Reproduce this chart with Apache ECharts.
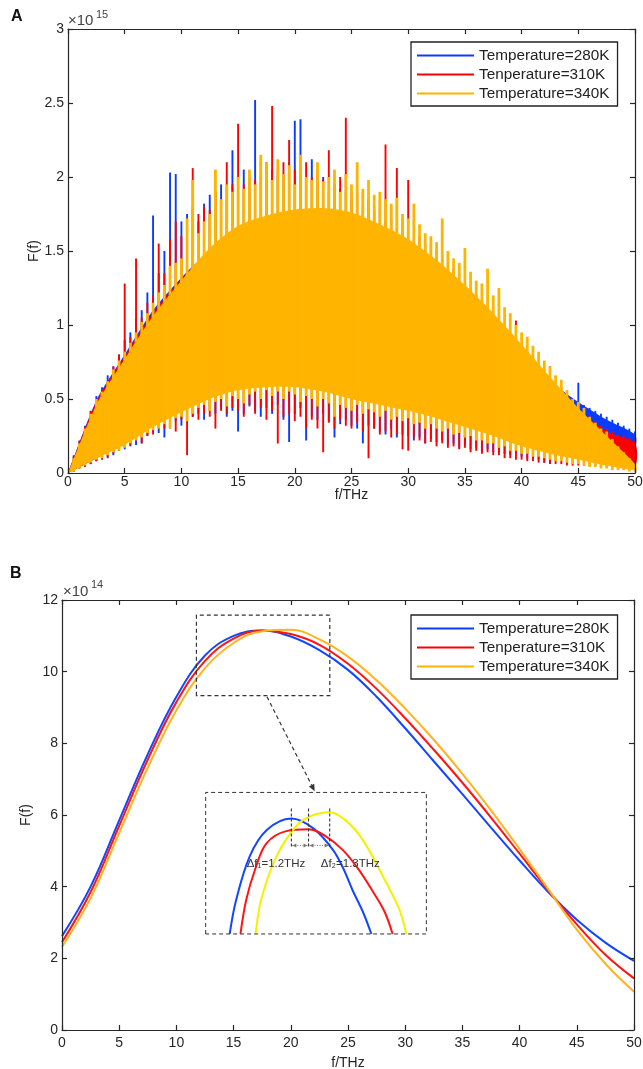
<!DOCTYPE html>
<html><head><meta charset="utf-8">
<script src="https://cdn.jsdelivr.net/npm/echarts@6/dist/echarts.min.js"></script>
<style>html,body{margin:0;padding:0;background:#fff}#c{width:643px;height:1069px}</style>
</head><body><div id="c"></div>
<script>
// ---------- names / colours ----------
const seriesNames = ['Temperature=280K', 'Tenperature=310K', 'Temperature=340K'];
const colA = ['#0a3cff', '#ff0000', '#ffb400'];
const colB = ['#1246ff', '#ff1414', '#ffb41e'];
const xTickLabels = ['0','5','10','15','20','25','30','35','40','45','50'];

// ---------- Panel A (values in units of 1e15) ----------
const fCoarse = [0,2.5,5,7.5,10,12.5,15,17.5,20,22.5,25,27.5,30,32.5,35,37.5,40,42.5,45,47.5,50];

const blueCoreHi  = [0,0.49,0.8,1.1,1.32,1.5,1.62,1.68,1.72,1.73,1.7,1.62,1.52,1.38,1.2,1.02,0.8,0.62,0.48,0.36,0.26];
const blueCoreLo  = [0,0.1,0.2,0.33,0.43,0.52,0.58,0.6,0.6,0.57,0.52,0.48,0.44,0.39,0.33,0.27,0.2,0.15,0.14,0.16,0.18];
const redCoreHi   = [0,0.48,0.79,1.08,1.31,1.5,1.64,1.7,1.74,1.75,1.72,1.64,1.54,1.4,1.23,1.04,0.84,0.62,0.43,0.28,0.2];
const redCoreLo   = [0,0.1,0.2,0.33,0.43,0.52,0.58,0.6,0.6,0.57,0.52,0.48,0.44,0.39,0.33,0.27,0.2,0.15,0.1,0.06,0.05];
const orangeCoreHi= [0,0.46,0.77,1.06,1.3,1.52,1.67,1.74,1.78,1.79,1.76,1.68,1.58,1.44,1.27,1.08,0.87,0.65,0.44,0.25,0.06];
const orangeCoreLo= [0,0.1,0.19,0.31,0.41,0.5,0.56,0.58,0.58,0.55,0.5,0.46,0.42,0.37,0.31,0.25,0.18,0.13,0.09,0.05,0.02];

// spike extremes every 0.5 THz (f = 0 ... 50)
const blueHi = [0,0.12,0.22,0.32,0.42,0.52,0.58,0.66,0.72,0.8,0.9,0.95,1.04,1.1,1.22,1.74,1.35,1.5,2.03,2.02,1.7,1.75,1.8,1.7,1.82,1.88,1.9,1.95,1.85,2.18,1.9,2.05,1.9,2.52,2.0,2.1,2.05,2.0,2.02,2.1,2.38,2.39,2.0,2.12,1.95,2.0,1.9,1.95,1.92,1.9,1.85,1.88,1.8,1.85,1.78,1.8,1.7,1.72,1.65,1.6,1.55,1.5,1.45,1.42,1.4,1.35,1.3,1.3,1.25,1.2,1.15,1.12,1.08,1.02,1.0,0.95,0.9,0.86,0.82,0.78,0.8,0.72,0.7,0.68,0.65,0.62,0.6,0.55,0.53,0.5,0.61,0.46,0.44,0.42,0.4,0.38,0.36,0.34,0.32,0.3,0.28];
const blueLo = [0,0.01,0.03,0.05,0.06,0.08,0.1,0.1,0.12,0.15,0.16,0.18,0.19,0.2,0.25,0.28,0.27,0.24,0.3,0.35,0.32,0.36,0.38,0.4,0.36,0.42,0.4,0.44,0.38,0.42,0.28,0.4,0.45,0.42,0.38,0.44,0.4,0.46,0.36,0.21,0.4,0.44,0.22,0.38,0.36,0.4,0.35,0.24,0.33,0.36,0.32,0.3,0.2,0.32,0.3,0.28,0.26,0.3,0.24,0.26,0.25,0.22,0.24,0.2,0.23,0.21,0.22,0.19,0.2,0.17,0.19,0.16,0.17,0.15,0.16,0.14,0.14,0.13,0.12,0.13,0.11,0.1,0.1,0.09,0.07,0.06,0.09,0.1,0.11,0.12,0.13,0.14,0.14,0.15,0.16,0.16,0.17,0.17,0.18,0.18,0.19];
const redHi = [0,0.11,0.21,0.31,0.42,0.5,0.56,0.62,0.72,0.8,1.28,0.92,1.45,1.05,1.15,1.2,1.55,1.35,1.58,1.7,1.6,1.72,2.06,1.75,1.8,1.78,1.9,1.85,2.1,1.95,2.36,1.95,2.0,1.98,2.1,2.0,2.48,2.05,2.1,2.25,2.05,2.0,2.1,2.0,2.05,1.98,2.18,1.95,2.0,2.4,1.9,1.92,1.9,1.85,1.8,1.85,2.22,1.8,2.06,1.72,1.98,1.62,1.6,1.55,1.55,1.5,1.48,1.42,1.38,1.35,1.3,1.25,1.2,1.12,1.1,1.05,1.0,0.98,0.92,1.03,0.85,0.8,0.76,0.72,0.7,0.72,0.62,0.58,0.55,0.5,0.46,0.42,0.38,0.35,0.32,0.3,0.28,0.26,0.25,0.24,0.22];
const redLo = [0,0.01,0.03,0.04,0.06,0.08,0.09,0.11,0.13,0.15,0.17,0.19,0.22,0.2,0.25,0.26,0.3,0.3,0.34,0.28,0.36,0.12,0.38,0.36,0.4,0.38,0.3,0.42,0.4,0.44,0.42,0.38,0.46,0.4,0.44,0.36,0.42,0.2,0.38,0.4,0.35,0.38,0.3,0.36,0.3,0.14,0.34,0.3,0.36,0.32,0.3,0.34,0.28,0.1,0.3,0.26,0.28,0.24,0.26,0.16,0.15,0.24,0.22,0.2,0.21,0.18,0.2,0.17,0.18,0.16,0.17,0.14,0.15,0.13,0.14,0.12,0.12,0.1,0.1,0.09,0.09,0.08,0.08,0.07,0.07,0.06,0.06,0.06,0.05,0.05,0.05,0.05,0.05,0.05,0.05,0.05,0.05,0.05,0.05,0.05,0.04];
const orangeHi = [0,0.1,0.2,0.3,0.4,0.5,0.55,0.62,0.7,0.76,0.82,0.88,0.95,1.02,1.08,1.15,1.22,1.27,1.4,1.42,1.45,1.72,1.98,1.62,1.7,1.75,2.05,1.85,1.95,1.9,2.0,1.92,2.05,1.95,2.15,2.1,1.98,2.12,2.02,2.08,1.95,2.15,2.0,1.98,2.1,1.97,2.0,2.05,1.9,2.02,1.95,2.1,1.92,1.98,1.88,1.9,1.85,1.82,1.86,1.75,1.72,1.82,1.68,1.62,1.6,1.56,1.72,1.5,1.45,1.42,1.52,1.36,1.3,1.28,1.38,1.2,1.25,1.12,1.08,1.0,0.95,0.92,0.86,0.82,0.76,0.72,0.66,0.63,0.56,0.5,0.48,0.44,0.38,0.34,0.3,0.28,0.23,0.18,0.14,0.1,0.06];
const orangeLo = [0,0.01,0.03,0.05,0.07,0.09,0.1,0.12,0.14,0.15,0.17,0.2,0.22,0.24,0.27,0.29,0.3,0.33,0.3,0.37,0.38,0.35,0.4,0.44,0.46,0.42,0.48,0.5,0.45,0.52,0.5,0.47,0.53,0.55,0.5,0.56,0.52,0.55,0.5,0.55,0.53,0.48,0.52,0.5,0.45,0.5,0.47,0.38,0.46,0.44,0.42,0.46,0.4,0.43,0.41,0.38,0.42,0.36,0.38,0.35,0.37,0.33,0.34,0.3,0.33,0.3,0.28,0.3,0.26,0.27,0.24,0.25,0.22,0.22,0.2,0.2,0.17,0.18,0.15,0.15,0.13,0.13,0.11,0.11,0.1,0.09,0.08,0.08,0.07,0.06,0.06,0.05,0.04,0.04,0.03,0.03,0.02,0.02,0.02,0.01,0.01];

// ---------- Panel B (values in units of 1e14) ----------
const blueB   = [2.62,4.0,5.85,7.7,9.3,10.45,11.0,11.15,10.98,10.6,10.05,9.3,8.42,7.5,6.58,5.65,4.73,3.85,3.08,2.44,1.93];
const redB    = [2.45,3.85,5.7,7.55,9.15,10.3,10.92,11.15,11.05,10.75,10.22,9.52,8.7,7.82,6.9,5.93,4.92,3.9,2.95,2.1,1.44];
const orangeB = [2.32,3.68,5.5,7.32,8.92,10.1,10.8,11.13,11.17,10.9,10.42,9.76,8.97,8.1,7.15,6.13,5.05,3.93,2.8,1.85,1.07];

// inset (magnified peak) curves: [f, value]
const insetBlue   = [[14.66,2.68],[15.2,3.6],[16.4,4.84],[17.9,5.58],[20.05,5.9],[22.0,5.62],[23.7,5.02],[24.6,4.5],[25.4,3.9],[26.3,3.3],[27.04,2.68]];
const insetRed    = [[15.6,2.68],[16.1,3.63],[16.9,4.5],[17.87,5.21],[19.6,5.55],[21.55,5.6],[23.0,5.42],[24.56,5.02],[26.0,4.45],[27.2,3.85],[28.2,3.3],[28.9,2.68]];
const insetYellow = [[16.93,2.68],[17.4,3.63],[18.74,4.84],[20.5,5.7],[21.8,5.98],[23.4,6.08],[24.8,5.85],[26.3,5.3],[28.36,4.1],[29.5,3.35],[30.1,2.68]];

// annotations (data coords of panel B)
const zoomBox  = [11.75, 9.33, 23.41, 11.58];
const insetBox = [12.56, 2.68, 31.85, 6.63];
const arrowPts = [17.92, 9.3, 22.09, 6.66];
const peakFs   = [20.05, 21.55, 23.4];
const peakLineY = [5.12, 6.19];
const deltaY   = 5.15;
const deltaLabels = [{f: 18.7, v: 4.63, text: 'Δf₁=1.2THz'}, {f: 25.2, v: 4.63, text: 'Δf₂=1.3THz'}];

// ---------- chart ----------
const FONT = "'Liberation Sans', Arial, Helvetica, sans-serif";
const AX = '#262626';
const fFine = blueHi.map((_, i) => i * 0.5);

function coreSeries(name, color, lo, hi) {
  return {
    type: 'custom', name, xAxisIndex: 0, yAxisIndex: 0, silent: true, animation: false,
    itemStyle: { color },
    data: fCoarse.map((f, i) => [f, lo[i], hi[i]]),
    encode: { x: 0, y: [1, 2] },
    renderItem(params, api) {
      if (params.dataIndex !== 0) return null;
      const up = fCoarse.map((f, i) => api.coord([f, hi[i]]));
      const dn = fCoarse.map((f, i) => api.coord([f, lo[i]])).reverse();
      return { type: 'polygon', shape: { points: up.concat(dn), smooth: 0.25 }, style: { fill: color } };
    }
  };
}
function spikeSeries(name, color, lo, hi, w) {
  return {
    type: 'custom', name, xAxisIndex: 0, yAxisIndex: 0, silent: true, animation: false,
    itemStyle: { color },
    data: fFine.map((f, i) => [f, lo[i], hi[i]]),
    encode: { x: 0, y: [1, 2] },
    renderItem(params, api) {
      const a = api.coord([api.value(0), api.value(1)]);
      const b = api.coord([api.value(0), api.value(2)]);
      return { type: 'line', shape: { x1: a[0], y1: a[1], x2: b[0], y2: b[1] }, style: { stroke: color, lineWidth: w } };
    }
  };
}
function lineB(name, color, vals) {
  return { type: 'line', name, xAxisIndex: 2, yAxisIndex: 2, data: fCoarse.map((f, i) => [f, vals[i]]),
    smooth: 0.4, showSymbol: false, symbol: 'none', lineStyle: { color, width: 2 }, itemStyle: { color },
    animation: false, z: 3 };
}
function insetLine(name, color, pts) {
  return { type: 'line', name, xAxisIndex: 2, yAxisIndex: 2, data: pts, smooth: 0.35, symbol: 'none',
    lineStyle: { color, width: 2 }, itemStyle: { color }, animation: false, z: 4 };
}

function axisPair(grid, min, max, interval, isX, name, nameGap) {
  const base = {
    gridIndex: grid, type: 'value', min, max, interval, z: 6,
    axisLine: { show: true, onZero: false, lineStyle: { color: AX, width: 1.2 } },
    axisTick: { show: true, inside: true, length: 5, lineStyle: { color: AX, width: 1.2 } },
    splitLine: { show: false }
  };
  const main = Object.assign({}, base, {
    position: isX ? 'bottom' : 'left',
    axisLabel: { color: AX, fontSize: 14, fontFamily: FONT, margin: isX ? (grid === 0 ? 2 : 6) : 4,
                 showMinLabel: true, showMaxLabel: true },
    name, nameLocation: 'middle', nameGap, nameRotate: isX ? 0 : 90, nameMoveOverlap: false,
    nameTextStyle: { color: AX, fontSize: 14, fontFamily: FONT }
  });
  const other = Object.assign({}, base, { position: isX ? 'top' : 'right', axisLabel: { show: false } });
  return [main, other];
}

const xA = axisPair(0, 0, 50, 5, true, 'f/THz', 15);
const yA = axisPair(0, 0, 3, 0.5, false, 'F(f)', 27);
const xB = axisPair(1, 0, 50, 5, true, 'f/THz', 26);
const yB = axisPair(1, 0, 12, 2, false, 'F(f)', 29);

const legendCommon = {
  orient: 'vertical', data: seriesNames, icon: 'rect', itemWidth: 57, itemHeight: 2, itemGap: 4,
  itemTextGap: 5, selectedMode: false, backgroundColor: '#fff',
  borderColor: '#222', borderWidth: 1.3, padding: [6, 8, 5, 6],
  textStyle: { fontSize: 15.3, color: '#222', fontFamily: FONT, lineHeight: 15 }
};

const annotation = {
  type: 'custom', name: 'annotation', xAxisIndex: 2, yAxisIndex: 2, silent: true, animation: false, z: 5,
  data: [[0, 0]],
  renderItem(params, api) {
    const dash = { stroke: '#333', lineWidth: 1.2, lineDash: [4, 3], fill: null };
    const rectPts = b => [api.coord([b[0], b[1]]), api.coord([b[0], b[3]]), api.coord([b[2], b[3]]), api.coord([b[2], b[1]])];
    const kids = [];
    kids.push({ type: 'polygon', shape: { points: rectPts(zoomBox) }, style: Object.assign({}, dash) });
    kids.push({ type: 'polygon', shape: { points: rectPts(insetBox) }, style: Object.assign({}, dash, { lineWidth: 1 }) });
    const s = api.coord([arrowPts[0], arrowPts[1]]), e = api.coord([arrowPts[2], arrowPts[3]]);
    const ang = Math.atan2(e[1] - s[1], e[0] - s[0]);
    const hl = 7, hw = 3;
    const back = [e[0] - hl * Math.cos(ang), e[1] - hl * Math.sin(ang)];
    kids.push({ type: 'line', shape: { x1: s[0], y1: s[1], x2: back[0], y2: back[1] }, style: { stroke: '#333', lineWidth: 1.2, lineDash: [4, 3] } });
    kids.push({ type: 'polygon', shape: { points: [e,
      [back[0] + hw * Math.sin(ang), back[1] - hw * Math.cos(ang)],
      [back[0] - hw * Math.sin(ang), back[1] + hw * Math.cos(ang)]] }, style: { fill: '#333' } });
    peakFs.forEach(f => {
      const a = api.coord([f, peakLineY[0]]), b = api.coord([f, peakLineY[1]]);
      kids.push({ type: 'line', shape: { x1: a[0], y1: a[1], x2: b[0], y2: b[1] }, style: { stroke: '#333', lineWidth: 1.1, lineDash: [3, 2] } });
    });
    for (let k = 0; k < peakFs.length - 1; k++) {
      const a = api.coord([peakFs[k], deltaY]), b = api.coord([peakFs[k + 1], deltaY]);
      kids.push({ type: 'line', shape: { x1: a[0] + 1, y1: a[1], x2: b[0] - 1, y2: b[1] }, style: { stroke: '#777', lineWidth: 1, lineDash: [1, 1.5] } });
      kids.push({ type: 'polygon', shape: { points: [[a[0] + 1, a[1]], [a[0] + 5, a[1] - 2], [a[0] + 5, a[1] + 2]] }, style: { fill: '#777' } });
      kids.push({ type: 'polygon', shape: { points: [[b[0] - 1, b[1]], [b[0] - 5, b[1] - 2], [b[0] - 5, b[1] + 2]] }, style: { fill: '#777' } });
    }
    deltaLabels.forEach(d => {
      const p = api.coord([d.f, d.v]);
      kids.push({ type: 'text', x: p[0], y: p[1], style: { text: d.text, fill: '#333', fontSize: 11.5, fontFamily: FONT, align: 'center', verticalAlign: 'middle' } });
    });
    return { type: 'group', children: kids };
  }
};

const option = {
  backgroundColor: '#fff',
  animation: false,
  grid: [
    { left: 68, top: 29, width: 567, height: 444, containLabel: false, outerBoundsMode: 'none' },
    { left: 62, top: 600, width: 572, height: 430, containLabel: false, outerBoundsMode: 'none' }
  ],
  xAxis: [xA[0], xA[1], xB[0], xB[1]],
  yAxis: [yA[0], yA[1], yB[0], yB[1]],
  legend: [
    Object.assign({}, legendCommon, { left: 411, top: 42 }),
    Object.assign({}, legendCommon, { left: 411, top: 615 })
  ],
  graphic: [
    { type: 'text', left: 11, top: 9, style: { text: 'A', fontSize: 16, fontWeight: 'bold', fill: '#111', fontFamily: FONT } },
    { type: 'text', left: 10, top: 566, style: { text: 'B', fontSize: 16, fontWeight: 'bold', fill: '#111', fontFamily: FONT } },
    { type: 'text', left: 68, top: 13, style: { text: '×10', fontSize: 15, fill: '#444', fontFamily: FONT } },
    { type: 'text', left: 96, top: 9, style: { text: '15', fontSize: 11, fill: '#444', fontFamily: FONT } },
    { type: 'text', left: 63, top: 584, style: { text: '×10', fontSize: 15, fill: '#444', fontFamily: FONT } },
    { type: 'text', left: 91, top: 579, style: { text: '14', fontSize: 11, fill: '#444', fontFamily: FONT } }
  ],
  series: [
    coreSeries(seriesNames[0], colA[0], blueCoreLo, blueCoreHi),
    spikeSeries(seriesNames[0], colA[0], blueLo, blueHi, 1.9),
    coreSeries(seriesNames[1], colA[1], redCoreLo, redCoreHi),
    spikeSeries(seriesNames[1], colA[1], redLo, redHi, 1.9),
    coreSeries(seriesNames[2], colA[2], orangeCoreLo, orangeCoreHi),
    spikeSeries(seriesNames[2], colA[2], orangeLo, orangeHi, 2.8),
    lineB(seriesNames[0], colB[0], blueB),
    lineB(seriesNames[1], colB[1], redB),
    lineB(seriesNames[2], colB[2], orangeB),
    annotation,
    insetLine('inset 280K', '#1246ff', insetBlue),
    insetLine('inset 310K', '#ff1414', insetRed),
    insetLine('inset 340K', '#f2f200', insetYellow)
  ]
};

const chart = echarts.init(document.getElementById('c'), null, { renderer: 'canvas' });
chart.setOption(option);
</script>
</body></html>
